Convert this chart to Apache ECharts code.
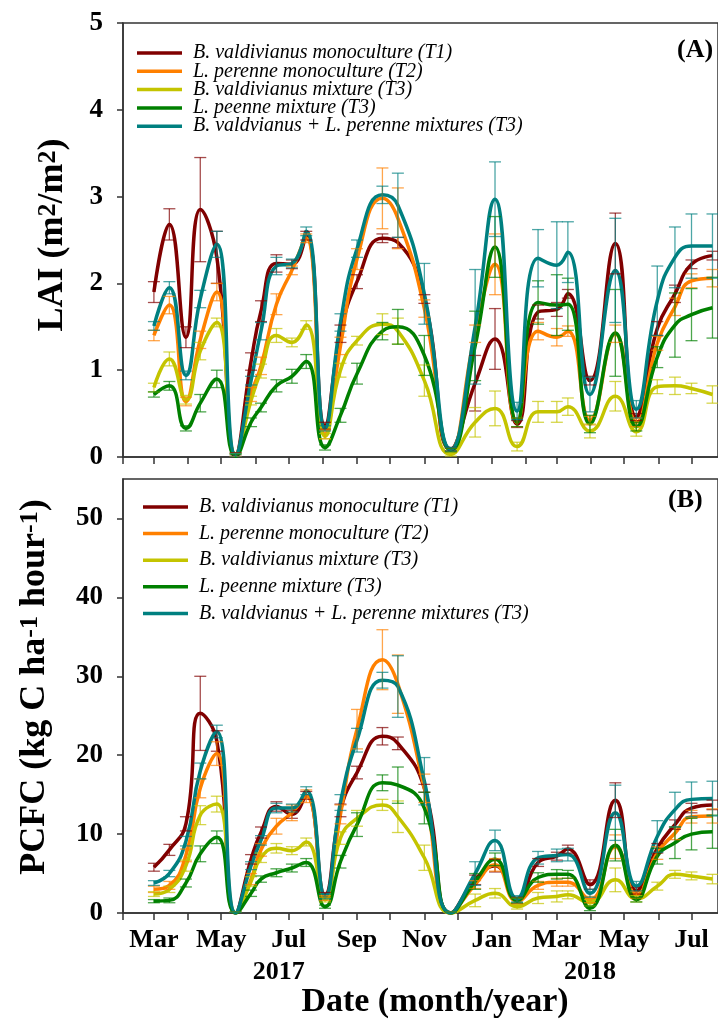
<!DOCTYPE html>
<html><head><meta charset="utf-8">
<script src="https://cdn.jsdelivr.net/npm/echarts@6/dist/echarts.min.js"></script>
<style>html,body{margin:0;padding:0;background:#fff}#c{width:718px;height:1026px}</style>
</head><body><div id="c"></div>
<script>
// ---------------- DATA ----------------
const sampleDates = ['2017-03-01','2017-03-15','2017-03-30','2017-04-12','2017-04-27','2017-05-14','2017-05-28','2017-06-06','2017-06-20','2017-07-04','2017-07-17','2017-08-03','2017-08-17','2017-09-01','2017-09-24','2017-10-08','2017-11-01','2017-11-25','2017-12-17','2018-01-04','2018-01-24','2018-02-12','2018-03-01','2018-03-11','2018-03-31','2018-04-23','2018-05-12','2018-05-31','2018-06-16','2018-07-01','2018-07-20'];

const seriesNames = ['B. valdivianus monoculture (T1)','L. perenne monoculture (T2)','B. valdivianus mixture (T3)','L. peenne mixture (T3)','B. valdvianus + L. perenne mixtures (T3)'];

// LAI (m2/m2)
const laiT1   = [1.90,2.68,1.38,2.85,2.30,0.03,1.10,1.68,2.23,2.22,2.55,0.36,1.42,2.02,2.52,2.47,1.82,0.09,0.85,1.36,0.38,1.67,1.70,1.88,0.88,2.46,0.46,1.48,1.88,2.22,2.32];
const laiT2   = [1.40,1.75,0.64,1.35,1.90,0.02,0.72,1.05,1.76,2.15,2.52,0.26,1.28,2.28,2.98,2.75,1.71,0.08,1.42,2.22,0.40,1.45,1.38,1.45,0.42,1.42,0.40,1.31,1.73,2.03,2.06];
const laiMixB = [0.80,1.13,0.66,1.22,1.55,0.02,0.65,0.99,1.40,1.32,1.52,0.24,1.00,1.34,1.53,1.45,0.88,0.03,0.40,0.56,0.12,0.52,0.52,0.58,0.30,0.70,0.29,0.81,0.82,0.79,0.72];
const laiMixL = [0.72,0.82,0.33,0.62,0.90,0.01,0.40,0.57,0.82,0.93,1.10,0.11,0.48,0.96,1.45,1.50,1.17,0.08,1.28,2.42,0.40,1.78,1.75,1.76,0.38,1.43,0.35,1.15,1.52,1.64,1.72];
const laiMixT = [1.51,1.95,0.94,1.82,2.45,0.02,0.88,1.45,2.20,2.23,2.60,0.33,1.55,2.40,3.02,2.90,1.88,0.09,1.50,2.97,0.53,2.29,2.21,2.36,0.72,2.15,0.55,1.80,2.30,2.43,2.43];

const laiT1Err   = [0.12,0.18,0.12,0.60,0.30,0.02,0.10,0.12,0.10,0.05,0.05,0.04,0.10,0.08,0.05,0.06,0.05,0.02,0.32,0.35,0.04,0.08,0.08,0.05,0.05,0.35,0.04,0.08,0.10,0.05,0.05];
const laiT2Err   = [0.06,0.10,0.05,0.10,0.10,0.02,0.08,0.10,0.12,0.05,0.05,0.05,0.10,0.12,0.35,0.35,0.10,0.02,0.10,0.35,0.05,0.10,0.10,0.06,0.05,0.10,0.05,0.08,0.10,0.08,0.10];
const laiMixBErr = [0.05,0.08,0.05,0.10,0.05,0.02,0.05,0.08,0.08,0.05,0.05,0.03,0.08,0.05,0.12,0.15,0.18,0.02,0.17,0.20,0.05,0.12,0.12,0.10,0.08,0.17,0.05,0.08,0.10,0.06,0.10];
const laiMixLErr = [0.03,0.05,0.03,0.10,0.10,0.02,0.05,0.05,0.07,0.08,0.08,0.03,0.08,0.12,0.10,0.20,0.23,0.02,0.40,0.35,0.05,0.25,0.35,0.30,0.10,0.50,0.05,0.12,0.37,0.30,0.35];
const laiMixTErr = [0.05,0.07,0.05,0.10,0.15,0.02,0.05,0.10,0.10,0.05,0.05,0.03,0.10,0.10,0.10,0.37,0.35,0.02,0.66,0.43,0.10,0.33,0.50,0.35,0.20,0.60,0.10,0.40,0.35,0.37,0.37];

// PCFC (kg C ha-1 hour-1)
const pcfcT1   = [5.8,8.0,11.3,25.3,21.8,0,6.8,10.2,13.5,12.5,14.9,2.3,13.0,17.8,22.4,21.5,15.8,0,4.2,6.0,1.6,6.4,7.2,8.1,3.6,14.3,2.8,8.2,11.2,13.3,13.7];
const pcfcT2   = [3.0,3.5,7.3,15.8,20.2,0,4.3,8.0,11.0,12.7,14.8,1.9,12.5,23.3,32.1,29.0,15.8,0,3.6,6.1,1.5,3.5,3.9,3.9,1.7,8.4,2.3,7.6,10.1,12.2,12.3];
const pcfcMixB = [2.4,3.0,6.0,12.4,13.8,0,4.0,7.0,8.2,7.9,9.0,1.7,9.5,12.0,13.7,12.2,7.0,0,1.6,2.5,0.8,1.9,2.1,2.3,1.3,4.2,1.8,3.4,4.9,4.7,4.3];
const pcfcMixL = [1.5,1.6,3.8,7.5,9.6,0,2.5,4.3,5.1,5.7,6.4,0.8,6.5,11.2,16.5,16.2,13.3,0,4.0,6.8,1.6,4.5,4.9,4.9,0.6,8.6,1.7,7.2,8.9,10.0,10.3];
const pcfcMixT = [3.8,5.0,9.1,18.0,23.0,0,6.0,9.2,13.3,13.3,15.5,2.1,14.0,21.9,29.5,28.7,16.7,0,5.0,9.2,1.8,7.0,7.3,7.4,2.5,12.7,3.4,9.7,13.1,14.4,14.5];

const pcfcT1Err   = [0.5,0.7,0.9,4.7,1.3,0.1,0.6,0.7,0.6,0.5,0.5,0.3,0.8,0.8,1.1,0.8,0.5,0.1,0.6,0.8,0.4,0.5,0.5,0.5,0.6,2.2,0.4,0.6,0.6,0.6,0.6];
const pcfcT2Err   = [0.4,0.5,0.8,1.2,1.5,0.1,0.7,0.8,1.0,1.0,0.8,0.3,1.2,2.5,3.8,3.7,1.8,0.1,0.5,0.8,0.4,0.5,0.5,0.5,0.4,1.5,0.4,0.8,0.8,0.8,0.9];
const pcfcMixBErr = [0.3,0.4,0.7,1.2,1.0,0.1,0.6,0.6,0.6,0.5,0.5,0.3,0.8,1.0,0.7,2.0,1.6,0.1,0.8,0.6,0.3,0.7,0.7,0.5,0.4,1.5,0.4,0.5,0.5,0.5,0.6];
const pcfcMixLErr = [0.2,0.3,0.5,1.0,0.8,0.1,0.4,0.4,0.5,0.5,0.5,0.2,0.8,1.5,1.0,2.3,2.0,0.1,1.0,0.8,0.3,0.6,0.6,0.5,0.3,2.0,0.3,1.0,2.0,2.0,2.1];
const pcfcMixTErr = [0.3,0.4,0.6,1.0,0.8,0.1,0.5,0.6,0.6,0.5,0.5,0.3,1.0,1.5,1.0,3.9,3.0,0.1,1.5,1.3,0.4,0.8,0.8,0.8,0.5,3.5,0.6,2.0,2.2,2.2,2.2];

// axis ticks / labels
const axisStartDate = '2017-02-01';
const axisEndDate = '2018-07-25';
const monthTickDates = ['2017-02-01','2017-03-01','2017-04-01','2017-05-01','2017-06-01','2017-07-01','2017-08-01','2017-09-01','2017-10-01','2017-11-01','2017-12-01','2018-01-01','2018-02-01','2018-03-01','2018-04-01','2018-05-01','2018-06-01','2018-07-01'];
const monthLabelDates = ['2017-03-01','2017-05-01','2017-07-01','2017-09-01','2017-11-01','2018-01-01','2018-03-01','2018-05-01','2018-07-01'];
const monthLabels = ['Mar','May','Jul','Sep','Nov','Jan','Mar','May','Jul'];
const yearLabelDates = ['2017-06-22','2018-03-31'];
const yearLabels = ['2017','2018'];
const laiTicks = [0,1,2,3,4,5];
const pcfcTicks = [0,10,20,30,40,50];

// ---------------- BUILD ----------------
const toDay = s => { const [y,m,d] = s.split('-').map(Number); return (Date.UTC(y,m-1,d) - Date.UTC(2017,1,1)) / 86400000; };
const xDays = sampleDates.map(toDay);
const tickDays = monthTickDates.map(toDay);
const labelDays = monthLabelDates.map(toDay);
const yearDays = yearLabelDates.map(toDay);
const xMin = toDay(axisStartDate), xMax = toDay(axisEndDate);

const palette = ['#800000','#ff8000','#c4c400','#008000','#008080'];
const FONT = 'Liberation Serif';
const AXC = '#333';

const laiVals = [laiT1, laiT2, laiMixB, laiMixL, laiMixT];
const laiErrs = [laiT1Err, laiT2Err, laiMixBErr, laiMixLErr, laiMixTErr];
const pcfcVals = [pcfcT1, pcfcT2, pcfcMixB, pcfcMixL, pcfcMixT];
const pcfcErrs = [pcfcT1Err, pcfcT2Err, pcfcMixBErr, pcfcMixLErr, pcfcMixTErr];

function hexA(hex, a){ const n=parseInt(hex.slice(1),16); return `rgba(${n>>16},${(n>>8)&255},${n&255},${a})`; }

const series = [];
function addPanel(vals, errs, gi){
  vals.forEach((v,k)=>{
    series.push({
      type:'line', name: seriesNames[k], xAxisIndex: gi, yAxisIndex: gi,
      data: xDays.map((x,i)=>[x, v[i]]), smooth: 0.5, showSymbol:false, symbol:'none',
      lineStyle:{color: palette[k], width: 3.5}, itemStyle:{color: palette[k]}, z: 2 + k*0.01, clip: true
    });
  });
  errs.forEach((e,k)=>{
    const col = hexA(palette[k], 0.7);
    series.push({
      type:'custom', name: 'err'+gi+'_'+k, xAxisIndex: gi, yAxisIndex: gi, z: 3, clip: true,
      data: xDays.map((x,i)=>[x, vals[k][i], e[i]]),
      encode:{x:0, y:1},
      renderItem: (params, api) => {
        const x = api.value(0), y = api.value(1), er = api.value(2);
        const t = api.coord([x, y + er]), b = api.coord([x, y - er]);
        const hw = 6, st = {stroke: col, lineWidth: 1.3};
        return {type:'group', children:[
          {type:'line', shape:{x1:t[0],y1:t[1],x2:b[0],y2:b[1]}, style:st},
          {type:'line', shape:{x1:t[0]-hw,y1:t[1],x2:t[0]+hw,y2:t[1]}, style:st},
          {type:'line', shape:{x1:b[0]-hw,y1:b[1],x2:b[0]+hw,y2:b[1]}, style:st}
        ]};
      }
    });
  });
}
addPanel(laiVals, laiErrs, 0);
addPanel(pcfcVals, pcfcErrs, 1);

const labelFont = {fontFamily: FONT, fontWeight:'bold', color:'#000'};
const monthFmt = v => { const i = labelDays.indexOf(v); return i >= 0 ? monthLabels[i] : ''; };
const yearFmt = v => { const i = yearDays.indexOf(v); return i >= 0 ? yearLabels[i] : ''; };

const baseX = (gi) => ({
  gridIndex: gi, type:'value', min: xMin, max: xMax,
  axisLine:{show:true, onZero:false, lineStyle:{color:AXC, width:1.5}},
  axisTick:{show:true, customValues: tickDays, length:7, lineStyle:{color:AXC, width:1.5}},
  splitLine:{show:false}
});

const legendBase = {
  data: seriesNames, orient:'vertical', icon:'rect', itemWidth:45, itemHeight:3.5,
  selectedMode:false, padding:0,
  textStyle:{fontFamily: FONT, fontStyle:'italic', fontSize:20, color:'#000', lineHeight:18, padding:[0,0,0,6]}
};

const richName = {
  b:{fontSize:36, fontWeight:'bold', fontFamily:FONT, color:'#000'},
  s:{fontSize:26, fontWeight:'bold', fontFamily:FONT, color:'#000', verticalAlign:'top'}
};

const option = {
  backgroundColor:'#fff',
  animation:false,
  grid:[
    {left:123, top:23, width:595, height:434, show:true, borderColor:AXC, borderWidth:1.5},
    {left:123, top:479, width:595, height:434, show:true, borderColor:AXC, borderWidth:1.5}
  ],
  title:[
    {text:'(A)', left:677, top:37, padding:0, textStyle:{...labelFont, fontSize:26}},
    {text:'(B)', left:668, top:487, padding:0, textStyle:{...labelFont, fontSize:26}},
    {text:'Date (month/year)', left:435, textAlign:'center', top:985, padding:0, textStyle:{...labelFont, fontSize:34}}
  ],
  legend:[
    {...legendBase, left:137, top:43, itemGap:-1.7},
    {...legendBase, left:143, top:497, itemGap:6.6}
  ],
  xAxis:[
    {...baseX(0), axisLabel:{show:false}},
    {...baseX(1), axisLabel:{customValues: labelDays, formatter: monthFmt, margin:14, fontSize:26, ...labelFont}},
    {gridIndex:1, type:'value', min:xMin, max:xMax, position:'bottom',
     axisLine:{show:false}, axisTick:{show:false}, splitLine:{show:false},
     axisLabel:{customValues: yearDays, formatter: yearFmt, margin:46, fontSize:26, ...labelFont}}
  ],
  yAxis:[
    {gridIndex:0, type:'value', min:0, max:5, interval:1,
     axisLine:{show:true, lineStyle:{color:AXC, width:1.5}},
     axisTick:{show:true, customValues: laiTicks, length:6, lineStyle:{color:AXC, width:1.5}},
     axisLabel:{customValues: laiTicks, margin:20, fontSize:27, ...labelFont},
     splitLine:{show:false},
     name:'{b|LAI (m}{s|2}{b|/m}{s|2}{b|)}', nameLocation:'middle', nameGap:52,
     nameTextStyle:{padding:[0,0,0,10], rich: richName}},
    {gridIndex:1, type:'value', min:0, max:55, interval:10,
     axisLine:{show:true, lineStyle:{color:AXC, width:1.5}},
     axisTick:{show:true, customValues: pcfcTicks, length:6, lineStyle:{color:AXC, width:1.5}},
     axisLabel:{customValues: pcfcTicks, margin:20, fontSize:27, ...labelFont},
     splitLine:{show:false},
     name:'{b|PCFC (kg C ha}{s|-1}{b| hour}{s|-1}{b|)}', nameLocation:'middle', nameGap:70,
     nameTextStyle:{padding:[0,0,0,18], rich: richName}}
  ],
  series
};

const chart = echarts.init(document.getElementById('c'), null, {renderer:'canvas'});
chart.setOption(option);
</script></body></html>
